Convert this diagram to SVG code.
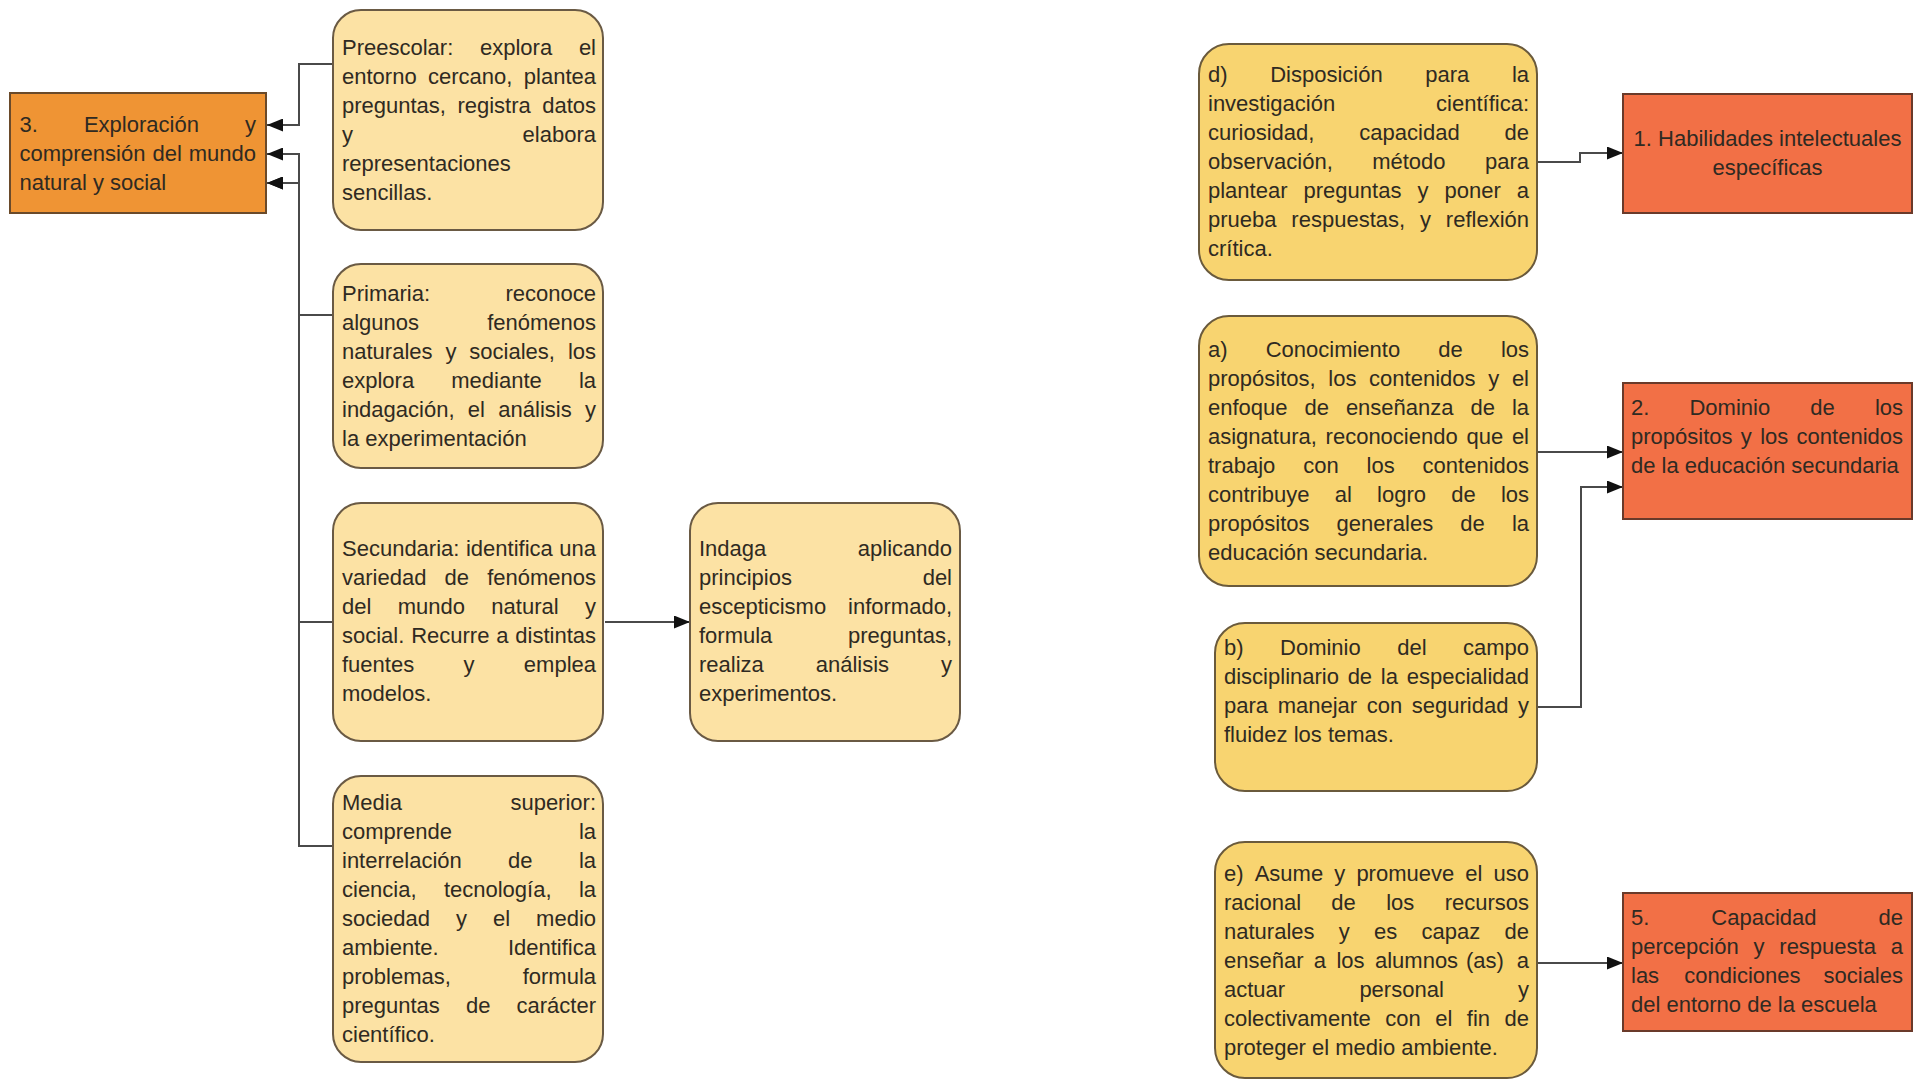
<svg xmlns="http://www.w3.org/2000/svg" width="1919" height="1080" viewBox="0 0 1919 1080">
<style>
.t{font-family:"Liberation Sans",Arial,sans-serif;font-size:22px;fill:#2f2a22;font-kerning:none}
.e{text-anchor:end}
.c{text-anchor:middle}
.peach{fill:#FCE2A4;stroke:#6a5a44;stroke-width:2}
.yel{fill:#F8D470;stroke:#6a5a3c;stroke-width:2}
.red{fill:#F27046;stroke:#6a3a2a;stroke-width:2}
.org{fill:#EF9434;stroke:#6a4a2a;stroke-width:2}
.ln{fill:none;stroke:#4a4a4a;stroke-width:2}
</style>
<defs>
<marker id="ah" markerUnits="userSpaceOnUse" markerWidth="17" markerHeight="13" refX="16" refY="6.5" orient="auto">
<path d="M0,0 L16,6.5 L0,13 z" fill="#111"/>
</marker>
</defs>
<rect width="1919" height="1080" fill="#ffffff"/>

<g id="connectors">
<path class="ln" d="M333,64 H299 V125 H267" marker-end="url(#ah)"/>
<path class="ln" d="M333,315 H299 V154 H267" marker-end="url(#ah)"/>
<path class="ln" d="M333,622 H299 V183 H267" marker-end="url(#ah)"/>
<path class="ln" d="M333,846 H299 V183 H267" marker-end="url(#ah)"/>
<path class="ln" d="M605,622 H690" marker-end="url(#ah)"/>
<path class="ln" d="M1537,162 H1580 V153 H1623" marker-end="url(#ah)"/>
<path class="ln" d="M1537,452 H1623" marker-end="url(#ah)"/>
<path class="ln" d="M1537,707 H1581 V487 H1623" marker-end="url(#ah)"/>
<path class="ln" d="M1537,963 H1623" marker-end="url(#ah)"/>
</g>

<g id="n3">
<rect class="org" x="10" y="93" width="256" height="120"/>
<text class="t" y="131.5"><tspan x="19.5">3.</tspan><tspan x="83.95">Exploración</tspan></text><text class="t e" x="256" y="131.5">y</text>
<text class="t" y="160.5"><tspan x="19.5">comprensión</tspan><tspan x="152.48">del</tspan></text><text class="t e" x="256" y="160.5">mundo</text>
<text class="t" x="19.5" y="189.5">natural y social</text>
</g>

<g id="preescolar">
<rect class="peach" x="333" y="10" width="270" height="220" rx="28"/>
<text class="t" y="55"><tspan x="342">Preescolar:</tspan><tspan x="480">explora</tspan></text><text class="t e" x="596" y="55">el</text>
<text class="t" y="84"><tspan x="342">entorno</tspan><tspan x="428.03">cercano,</tspan></text><text class="t e" x="596" y="84">plantea</text>
<text class="t" y="113"><tspan x="342">preguntas,</tspan><tspan x="457.4">registra</tspan></text><text class="t e" x="596" y="113">datos</text>
<text class="t" x="342" y="142">y</text><text class="t e" x="596" y="142">elabora</text>
<text class="t" x="342" y="171">representaciones</text>
<text class="t" x="342" y="200">sencillas.</text>
</g>

<g id="primaria">
<rect class="peach" x="333" y="264" width="270" height="204" rx="28"/>
<text class="t" x="342" y="301">Primaria:</text><text class="t e" x="596" y="301">reconoce</text>
<text class="t" x="342" y="330">algunos</text><text class="t e" x="596" y="330">fenómenos</text>
<text class="t" y="359"><tspan x="342">naturales</tspan><tspan x="445.43">y</tspan><tspan x="469.37">sociales,</tspan></text><text class="t e" x="596" y="359">los</text>
<text class="t" y="388"><tspan x="342">explora</tspan><tspan x="451.27">mediante</tspan></text><text class="t e" x="596" y="388">la</text>
<text class="t" y="417"><tspan x="342">indagación,</tspan><tspan x="467.85">el</tspan><tspan x="498.31">análisis</tspan></text><text class="t e" x="596" y="417">y</text>
<text class="t" x="342" y="446">la experimentación</text>
</g>

<g id="secundaria">
<rect class="peach" x="333" y="503" width="270" height="238" rx="28"/>
<text class="t" y="556"><tspan x="342">Secundaria:</tspan><tspan x="465.94">identifica</tspan></text><text class="t e" x="596" y="556">una</text>
<text class="t" y="585"><tspan x="342">variedad</tspan><tspan x="444.54">de</tspan></text><text class="t e" x="596" y="585">fenómenos</text>
<text class="t" y="614"><tspan x="342">del</tspan><tspan x="397.73">mundo</tspan><tspan x="491.36">natural</tspan></text><text class="t e" x="596" y="614">y</text>
<text class="t" y="643"><tspan x="342">social.</tspan><tspan x="411.18">Recurre</tspan><tspan x="496.24">a</tspan></text><text class="t e" x="596" y="643">distintas</text>
<text class="t" y="672"><tspan x="342">fuentes</tspan><tspan x="463.51">y</tspan></text><text class="t e" x="596" y="672">emplea</text>
<text class="t" x="342" y="701">modelos.</text>
</g>

<g id="media">
<rect class="peach" x="333" y="776" width="270" height="286" rx="28"/>
<text class="t" x="342" y="810">Media</text><text class="t e" x="596" y="810">superior:</text>
<text class="t" x="342" y="839">comprende</text><text class="t e" x="596" y="839">la</text>
<text class="t" y="868"><tspan x="342">interrelación</tspan><tspan x="508.11">de</tspan></text><text class="t e" x="596" y="868">la</text>
<text class="t" y="897"><tspan x="342">ciencia,</tspan><tspan x="443.92">tecnología,</tspan></text><text class="t e" x="596" y="897">la</text>
<text class="t" y="926"><tspan x="342">sociedad</tspan><tspan x="456.02">y</tspan><tspan x="493">el</tspan></text><text class="t e" x="596" y="926">medio</text>
<text class="t" x="342" y="955">ambiente.</text><text class="t e" x="596" y="955">Identifica</text>
<text class="t" x="342" y="984">problemas,</text><text class="t e" x="596" y="984">formula</text>
<text class="t" y="1013"><tspan x="342">preguntas</tspan><tspan x="465.95">de</tspan></text><text class="t e" x="596" y="1013">carácter</text>
<text class="t" x="342" y="1042">científico.</text>
</g>

<g id="indaga">
<rect class="peach" x="690" y="503" width="270" height="238" rx="28"/>
<text class="t" x="699" y="556">Indaga</text><text class="t e" x="952" y="556">aplicando</text>
<text class="t" x="699" y="585">principios</text><text class="t e" x="952" y="585">del</text>
<text class="t" x="699" y="614">escepticismo</text><text class="t e" x="952" y="614">informado,</text>
<text class="t" x="699" y="643">formula</text><text class="t e" x="952" y="643">preguntas,</text>
<text class="t" y="672"><tspan x="699">realiza</tspan><tspan x="815.72">análisis</tspan></text><text class="t e" x="952" y="672">y</text>
<text class="t" x="699" y="701">experimentos.</text>
</g>

<g id="d">
<rect class="yel" x="1199" y="44" width="338" height="236" rx="30"/>
<text class="t" y="82"><tspan x="1208">d)</tspan><tspan x="1270.17">Disposición</tspan><tspan x="1425.24">para</tspan></text><text class="t e" x="1529" y="82">la</text>
<text class="t" x="1208" y="111">investigación</text><text class="t e" x="1529" y="111">científica:</text>
<text class="t" y="140"><tspan x="1208">curiosidad,</tspan><tspan x="1359.32">capacidad</tspan></text><text class="t e" x="1529" y="140">de</text>
<text class="t" y="169"><tspan x="1208">observación,</tspan><tspan x="1372.17">método</tspan></text><text class="t e" x="1529" y="169">para</text>
<text class="t" y="198"><tspan x="1208">plantear</tspan><tspan x="1303.54">preguntas</tspan><tspan x="1417.42">y</tspan><tspan x="1444.47">poner</tspan></text><text class="t e" x="1529" y="198">a</text>
<text class="t" y="227"><tspan x="1208">prueba</tspan><tspan x="1291.37">respuestas,</tspan><tspan x="1419.97">y</tspan></text><text class="t e" x="1529" y="227">reflexión</text>
<text class="t" x="1208" y="256">crítica.</text>
</g>

<g id="a">
<rect class="yel" x="1199" y="316" width="338" height="270" rx="30"/>
<text class="t" y="357"><tspan x="1208">a)</tspan><tspan x="1265.68">Conocimiento</tspan><tspan x="1438.29">de</tspan></text><text class="t e" x="1529" y="357">los</text>
<text class="t" y="386"><tspan x="1208">propósitos,</tspan><tspan x="1328.29">los</tspan><tspan x="1369.1">contenidos</tspan><tspan x="1488.18">y</tspan></text><text class="t e" x="1529" y="386">el</text>
<text class="t" y="415"><tspan x="1208">enfoque</tspan><tspan x="1304.47">de</tspan><tspan x="1345.89">enseñanza</tspan><tspan x="1470.47">de</tspan></text><text class="t e" x="1529" y="415">la</text>
<text class="t" y="444"><tspan x="1208">asignatura,</tspan><tspan x="1325.59">reconociendo</tspan><tspan x="1466.42">que</tspan></text><text class="t e" x="1529" y="444">el</text>
<text class="t" y="473"><tspan x="1208">trabajo</tspan><tspan x="1303.18">con</tspan><tspan x="1366.57">los</tspan></text><text class="t e" x="1529" y="473">contenidos</text>
<text class="t" y="502"><tspan x="1208">contribuye</tspan><tspan x="1334.72">al</tspan><tspan x="1377.07">logro</tspan><tspan x="1451.21">de</tspan></text><text class="t e" x="1529" y="502">los</text>
<text class="t" y="531"><tspan x="1208">propósitos</tspan><tspan x="1336.6">generales</tspan><tspan x="1460.31">de</tspan></text><text class="t e" x="1529" y="531">la</text>
<text class="t" x="1208" y="560">educación secundaria.</text>
</g>

<g id="b">
<rect class="yel" x="1215" y="623" width="322" height="168" rx="30"/>
<text class="t" y="655"><tspan x="1224">b)</tspan><tspan x="1280.03">Dominio</tspan><tspan x="1397.17">del</tspan></text><text class="t e" x="1529" y="655">campo</text>
<text class="t" y="684"><tspan x="1224">disciplinario</tspan><tspan x="1347.64">de</tspan><tspan x="1380.83">la</tspan></text><text class="t e" x="1529" y="684">especialidad</text>
<text class="t" y="713"><tspan x="1224">para</tspan><tspan x="1277.64">manejar</tspan><tspan x="1366.72">con</tspan><tspan x="1411.8">seguridad</tspan></text><text class="t e" x="1529" y="713">y</text>
<text class="t" x="1224" y="742">fluidez los temas.</text>
</g>

<g id="e">
<rect class="yel" x="1215" y="842" width="322" height="236" rx="30"/>
<text class="t" y="881"><tspan x="1224">e)</tspan><tspan x="1254.68">Asume</tspan><tspan x="1334.26">y</tspan><tspan x="1356.38">promueve</tspan><tspan x="1465.31">el</tspan></text><text class="t e" x="1529" y="881">uso</text>
<text class="t" y="910"><tspan x="1224">racional</tspan><tspan x="1331.37">de</tspan><tspan x="1386.18">los</tspan></text><text class="t e" x="1529" y="910">recursos</text>
<text class="t" y="939"><tspan x="1224">naturales</tspan><tspan x="1338.77">y</tspan><tspan x="1374.05">es</tspan><tspan x="1421.56">capaz</tspan></text><text class="t e" x="1529" y="939">de</text>
<text class="t" y="968"><tspan x="1224">enseñar</tspan><tspan x="1313.87">a</tspan><tspan x="1336.48">los</tspan><tspan x="1374.98">alumnos</tspan><tspan x="1466">(as)</tspan></text><text class="t e" x="1529" y="968">a</text>
<text class="t" y="997"><tspan x="1224">actuar</tspan><tspan x="1359.39">personal</tspan></text><text class="t e" x="1529" y="997">y</text>
<text class="t" y="1026"><tspan x="1224">colectivamente</tspan><tspan x="1385.22">con</tspan><tspan x="1435.18">el</tspan><tspan x="1466.8">fin</tspan></text><text class="t e" x="1529" y="1026">de</text>
<text class="t" x="1224" y="1055">proteger el medio ambiente.</text>
</g>

<g id="n1">
<rect class="red" x="1623" y="94" width="289" height="119"/>
<text class="t c" x="1767.5" y="145.5">1. Habilidades intelectuales</text>
<text class="t c" x="1767.5" y="174.5">específicas</text>
</g>

<g id="n2">
<rect class="red" x="1623" y="383" width="289" height="136"/>
<text class="t" y="415"><tspan x="1631">2.</tspan><tspan x="1689.48">Dominio</tspan><tspan x="1810.28">de</tspan></text><text class="t e" x="1903" y="415">los</text>
<text class="t" y="444"><tspan x="1631">propósitos</tspan><tspan x="1740.82">y</tspan><tspan x="1760.15">los</tspan></text><text class="t e" x="1903" y="444">contenidos</text>
<text class="t" x="1631" y="473">de la educación secundaria</text>
</g>

<g id="n5">
<rect class="red" x="1623" y="893" width="289" height="138"/>
<text class="t" y="925"><tspan x="1631">5.</tspan><tspan x="1711.37">Capacidad</tspan></text><text class="t e" x="1903" y="925">de</text>
<text class="t" y="954"><tspan x="1631">percepción</tspan><tspan x="1753.46">y</tspan><tspan x="1779.32">respuesta</tspan></text><text class="t e" x="1903" y="954">a</text>
<text class="t" y="983"><tspan x="1631">las</tspan><tspan x="1684.35">condiciones</tspan></text><text class="t e" x="1903" y="983">sociales</text>
<text class="t" x="1631" y="1012">del entorno de la escuela</text>
</g>
</svg>
